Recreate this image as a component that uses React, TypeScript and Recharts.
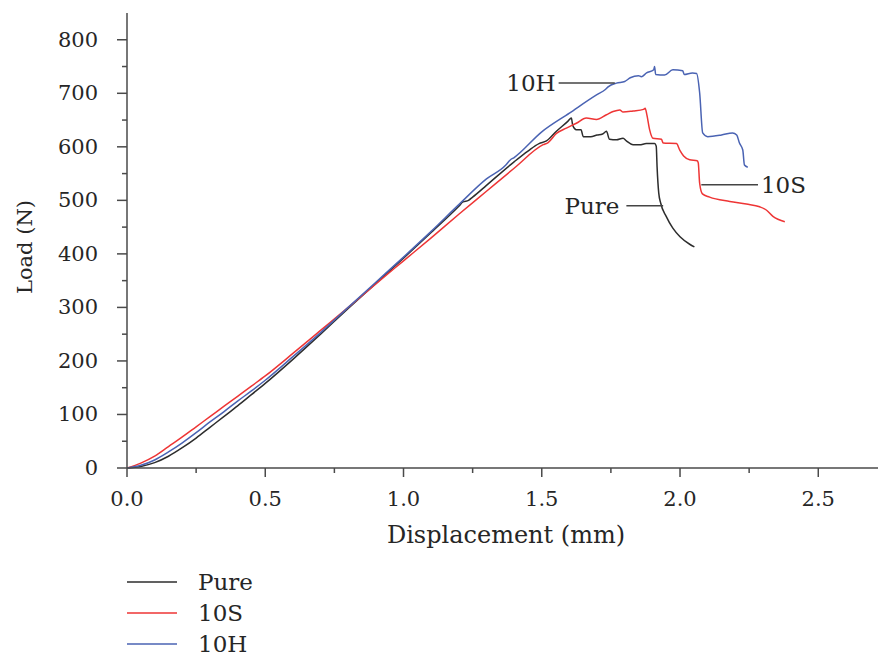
import React from "react";
import { Line, LineChart, ReferenceLine, XAxis, YAxis } from "recharts";

// displacement (mm) / load (N)
const pureDisp = [0, 0.05, 0.1, 0.15, 0.2, 0.25, 0.3, 0.35, 0.4, 0.45, 0.5, 0.6, 0.7, 0.8, 0.9, 1.0, 1.1, 1.2, 1.215, 1.235, 1.25, 1.3, 1.4, 1.45, 1.49, 1.517, 1.553, 1.595, 1.607, 1.612, 1.625, 1.642, 1.65, 1.677, 1.7, 1.72, 1.734, 1.745, 1.77, 1.794, 1.806, 1.83, 1.854, 1.878, 1.908, 1.914, 1.917, 1.923, 1.93, 1.95, 1.974, 2.0, 2.035, 2.052];
const pureLoad = [0, 3, 10, 22, 38, 56, 76, 96, 116, 137, 158, 203, 250, 298, 345, 392, 440, 489, 497, 500, 506, 528, 572, 592, 606, 611, 629, 648, 654, 640, 632, 632, 619, 619, 622, 624, 629, 614, 613, 616, 611, 604, 604, 606, 606, 601, 563, 514, 495, 470, 448, 432, 418, 413];

const s10Disp = [0, 0.05, 0.1, 0.15, 0.2, 0.25, 0.3, 0.35, 0.4, 0.45, 0.5, 0.6, 0.7, 0.8, 0.9, 1.0, 1.1, 1.2, 1.3, 1.4, 1.505, 1.523, 1.553, 1.589, 1.625, 1.661, 1.698, 1.734, 1.758, 1.782, 1.794, 1.83, 1.868, 1.874, 1.88, 1.89, 1.902, 1.933, 1.939, 1.987, 1.999, 2.013, 2.035, 2.062, 2.066, 2.071, 2.081, 2.107, 2.18, 2.24, 2.288, 2.312, 2.336, 2.379];
const s10Load = [0, 9, 22, 40, 58, 77, 96, 115, 134, 153, 172, 214, 257, 300, 344, 387, 430, 474, 517, 560, 604, 608, 625, 635, 644, 654, 651, 660, 666, 669, 665, 667, 670, 672, 660, 632, 616, 614, 607, 606, 594, 583, 576, 574, 570, 532, 512, 506, 498, 493, 488, 482, 470, 460];

const h10Disp = [0, 0.05, 0.1, 0.15, 0.2, 0.25, 0.3, 0.35, 0.4, 0.45, 0.5, 0.6, 0.7, 0.8, 0.9, 1.0, 1.1, 1.2, 1.3, 1.37, 1.385, 1.4, 1.5, 1.6, 1.698, 1.73, 1.74, 1.77, 1.8, 1.82, 1.85, 1.86, 1.879, 1.905, 1.908, 1.912, 1.944, 1.974, 2.01, 2.015, 2.045, 2.06, 2.071, 2.082, 2.1, 2.15, 2.19, 2.205, 2.215, 2.227, 2.233, 2.245];
const h10Load = [0, 5, 15, 30, 47, 66, 86, 105, 125, 144, 164, 208, 253, 300, 347, 394, 442, 492, 540, 566, 575, 580, 628, 663, 697, 707, 712, 719, 722, 729, 733, 731, 738, 744, 750, 735, 734, 744, 742, 735, 738, 737, 701, 626, 619, 622, 626, 622, 607, 594, 566, 562];

const xTicks = [0, 0.25, 0.5, 0.75, 1.0, 1.25, 1.5, 1.75, 2.0, 2.25, 2.5];
const yTicks = [0, 50, 100, 150, 200, 250, 300, 350, 400, 450, 500, 550, 600, 650, 700, 750, 800];

const zip = (xs: number[], ys: number[]) => xs.map((x, i) => ({ x, y: ys[i] }));

const series = [
  { name: "Pure", color: "#2d2d2d", data: zip(pureDisp, pureLoad) },
  { name: "10S", color: "#ee3535", data: zip(s10Disp, s10Load) },
  { name: "10H", color: "#4a63b3", data: zip(h10Disp, h10Load) },
];

// callout lines next to the curves
const callouts = [
  { name: "10H", x1: 1.561, x2: 1.764, y: 719, side: "left", gap: 3 },
  { name: "10S", x1: 2.077, x2: 2.282, y: 529, side: "right", gap: 3 },
  { name: "Pure", x1: 1.806, x2: 1.939, y: 490, side: "left", gap: 7 },
];

const FONT = "'DejaVu Serif', serif";
const TEXT = "#262626";
const AXIS = "#4a4a4a";

const YTick = (props: any) => {
  const { x, y, payload } = props;
  const major = payload.value % 100 === 0;
  return (
    <g>
      <line x1={x} x2={x - (major ? 10 : 5)} y1={y} y2={y} stroke={AXIS} strokeWidth={1.5} />
      {major && (
        <text x={x - 29} y={y} textAnchor="end" dominantBaseline="central" fontSize={21} fontFamily={FONT} fill={TEXT}>
          {payload.value}
        </text>
      )}
    </g>
  );
};

const XTick = (props: any) => {
  const { x, y, payload } = props;
  const major = Math.abs((payload.value * 2) % 1) < 1e-6;
  return (
    <g>
      <line x1={x} x2={x} y1={y} y2={y + (major ? 9 : 5)} stroke={AXIS} strokeWidth={1.5} />
      {major && (
        <text x={x} y={y + 38} textAnchor="middle" fontSize={21} fontFamily={FONT} fill={TEXT}>
          {payload.value.toFixed(1)}
        </text>
      )}
    </g>
  );
};

export default function App() {
  return (
    <div style={{ position: "absolute", left: 0, top: 0, width: 878, height: 657, background: "#fff" }}>
      <LineChart width={878} height={657} margin={{ top: 13, right: 0, bottom: 0, left: 0 }}>
        <XAxis
          type="number"
          dataKey="x"
          domain={[0, 2.716]}
          ticks={xTicks}
          allowDataOverflow
          height={189}
          tickSize={0}
          tickMargin={0}
          tickLine={false}
          tick={<XTick />}
          axisLine={{ stroke: AXIS, strokeWidth: 1.5 }}
          label={{
            content: ({ viewBox }: any) => (
              <text x={viewBox.x + 379} y={viewBox.y + 75} textAnchor="middle" fontSize={24} fontFamily={FONT} fill={TEXT}>
                Displacement (mm)
              </text>
            ),
          }}
        />
        <YAxis
          type="number"
          domain={[0, 850]}
          ticks={yTicks}
          width={127}
          tickSize={0}
          tickMargin={0}
          tickLine={false}
          tick={<YTick />}
          axisLine={{ stroke: AXIS, strokeWidth: 1.5 }}
          label={{
            content: () => (
              <text x={25} y={247} transform="rotate(-90 25 247)" textAnchor="middle" dominantBaseline="central" fontSize={21} fontFamily={FONT} fill={TEXT}>
                Load (N)
              </text>
            ),
          }}
        />
        {series.map((s) => (
          <Line
            key={s.name}
            data={s.data}
            dataKey="y"
            name={s.name}
            type="monotone"
            stroke={s.color}
            strokeWidth={1.5}
            dot={false}
            isAnimationActive={false}
          />
        ))}
        {callouts.map((c) => (
          <ReferenceLine
            key={c.name}
            segment={[{ x: c.x1, y: c.y }, { x: c.x2, y: c.y }]}
            stroke="#444"
            strokeWidth={1.5}
            ifOverflow="visible"
            label={{ value: c.name, position: c.side, offset: c.gap, fontSize: 23, fontFamily: FONT, fill: TEXT }}
          />
        ))}
      </LineChart>
      <svg width={300} height={100} style={{ position: "absolute", left: 0, top: 565 }}>
        {series.map((s, i) => (
          <g key={s.name}>
            <line x1={127} x2={177} y1={17 + i * 31} y2={17 + i * 31} stroke={s.color} strokeWidth={1.5} />
            <text x={198} y={17 + i * 31} dominantBaseline="central" fontSize={23} fontFamily={FONT} fill={TEXT}>
              {s.name}
            </text>
          </g>
        ))}
      </svg>
    </div>
  );
}
